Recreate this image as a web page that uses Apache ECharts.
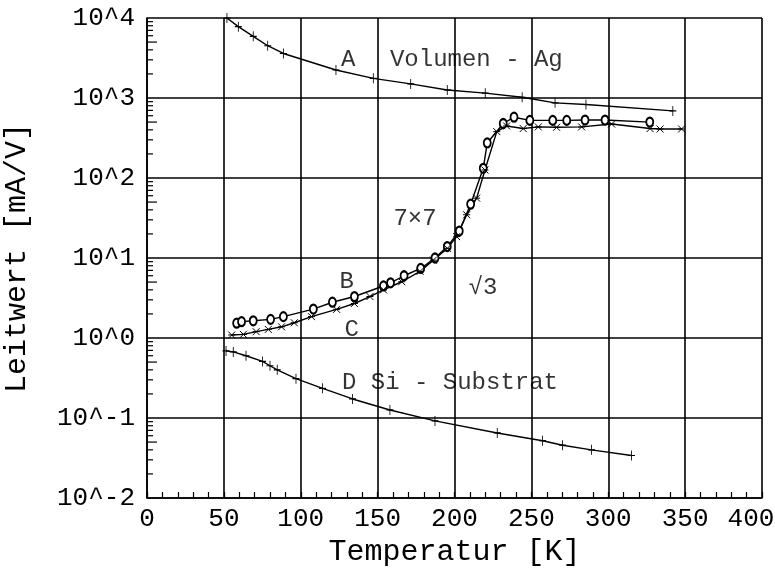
<!DOCTYPE html>
<html><head><meta charset="utf-8">
<script src="https://cdn.jsdelivr.net/npm/echarts@6/dist/echarts.min.js"></script>
<style>html,body{margin:0;padding:0;background:#fff}#c{width:775px;height:571px}</style>
</head><body><div id="c"></div>
<script>
// Series A: Volumen - Ag
const aT = [52, 59.4, 69.1, 78.5, 88.7, 122.9, 147.2, 171.5, 195.3, 220, 244, 265.4, 285.5, 342];
const aG = [10000, 7800, 5900, 4500, 3600, 2240, 1760, 1500, 1260, 1150, 1020, 870, 830, 690];
// Series B (7x7)
const bT = [58.3, 61.5, 69.1, 80.4, 88.7, 108.2, 120.6, 134.9, 153.8, 158.4, 167.2, 178, 187.3, 195.3, 203.1, 210.5, 218.7, 221.3, 231.7, 238.7, 249, 263.9, 273, 284.9, 297.9, 327];
const bG = [1.53, 1.6, 1.64, 1.71, 1.85, 2.3, 2.8, 3.3, 4.47, 4.9, 6.0, 7.4, 10, 13.9, 21.7, 47, 132, 274, 480, 575, 525, 525, 525, 530, 530, 500];
// Series C (sqrt3)
const cT = [55.1, 62.7, 71, 78.9, 87.5, 95.8, 107, 123.3, 134.9, 145, 153.8, 165.7, 177.6, 186.2, 195.3, 201.4, 207.9, 214.4, 219.8, 227.5, 233.9, 244.7, 254.5, 266.4, 282.7, 302.2, 327.2, 333.7, 347.7];
const cG = [1.09, 1.11, 1.2, 1.28, 1.38, 1.55, 1.85, 2.28, 2.7, 3.3, 4, 5.05, 6.8, 9.4, 13.2, 18.5, 34.7, 56, 126, 380, 447, 415, 435, 430, 435, 473, 415, 410, 410];
// Series D: Si - Substrat
const dT = [51.4, 56.1, 64.4, 75.1, 80, 84.7, 96.9, 114.2, 133.7, 158, 187.3, 227.8, 257.3, 270.3, 289.1, 315.1];
const dG = [0.69, 0.67, 0.6, 0.51, 0.45, 0.4, 0.31, 0.235, 0.173, 0.126, 0.092, 0.065, 0.052, 0.0457, 0.04, 0.034];

// annotations
const notesCenter = [
  { text: 'A', T: 130.8, G: 2985 },
  { text: '7×7', T: 174.3, G: 31.3 },
  { text: 'B', T: 129.9, G: 5.06 },
  { text: '√3', T: 218.5, G: 4.2 },
  { text: 'C', T: 133.2, G: 1.26 }
];
const notesLeft = [
  { text: 'Volumen - Ag', T: 158, G: 2985 },
  { text: 'D Si - Substrat', T: 126.8, G: 0.28 }
];
const xTickLabels = ['0','50','100','150','200','250','300','350','400'];
const decades = [-2, -1, 0, 1, 2, 3, 4];

const FONT = 'Liberation Mono';
const zip = (t, g) => t.map((v, i) => [v, g[i]]);

const plus = 'path://M0,-5L0,5M-3,0L3,0';
const crossSym = 'path://M-4,-4L4,4M-4,4L4,-4M-4,0L4,0';

const minorLogVals = [];
decades.slice(0, -1).forEach(k => { for (let m = 2; m <= 9; m++) minorLogVals.push([0, m * Math.pow(10, k)]); });

const lineBase = { type: 'line', color: '#000', lineStyle: { color: '#000', width: 1.4 }, itemStyle: { color: '#000', borderColor: '#000' }, animation: false, z: 5 };

const chart = echarts.init(document.getElementById('c'), null, { renderer: 'canvas' });
chart.setOption({
  animation: false,
  backgroundColor: '#fff',
  grid: { left: 147, right: 13, top: 18, bottom: 73, containLabel: false, outerBoundsMode: 'none' },
  xAxis: {
    type: 'value', min: 0, max: 400, interval: 50,
    name: 'Temperatur [K]', nameLocation: 'middle', nameGap: 36,
    nameTextStyle: { fontFamily: FONT, fontSize: 30, color: '#000' },
    axisLine: { lineStyle: { color: '#000', width: 1.6 } },
    axisTick: { show: true, inside: true, length: 6, lineStyle: { color: '#000', width: 1.3 } },
    minorTick: { show: true, splitNumber: 5, length: 6, lineStyle: { color: '#000', width: 1.2 } },
    axisLabel: { fontFamily: FONT, fontSize: 26, color: '#000', margin: 8,
      formatter: v => { const i = Math.round(v / 50); return i === xTickLabels.length - 1 ? '{last|' + xTickLabels[i] + '}' : xTickLabels[i]; },
      rich: { last: { fontFamily: FONT, fontSize: 26, color: '#000', padding: [0, 22, 0, 0] } } },
    splitLine: { show: true, lineStyle: { color: '#000', width: 1.6 } }
  },
  yAxis: {
    type: 'log', logBase: 10, min: 0.01, max: 10000, interval: 1,
    name: 'Leitwert [mA/V]', nameLocation: 'middle', nameGap: 115, nameRotate: 90,
    nameTextStyle: { fontFamily: FONT, fontSize: 30, color: '#000' },
    axisLine: { lineStyle: { color: '#000', width: 1.6 } },
    axisTick: { show: false },
    axisLabel: { fontFamily: FONT, fontSize: 26, color: '#000', margin: 12,
      formatter: v => '10^' + Math.round(Math.log10(v)) },
    splitLine: { show: true, lineStyle: { color: '#000', width: 1.6 } }
  },
  series: [
    Object.assign({}, lineBase, { name: 'A', data: zip(aT, aG), symbol: plus, symbolSize: [7, 10] }),
    Object.assign({}, lineBase, { name: 'B', data: zip(bT, bG), symbol: 'emptyCircle', symbolSize: [7, 9], itemStyle: { color: '#000', borderColor: '#000', borderWidth: 1.3 } }),
    Object.assign({}, lineBase, { name: 'C', data: zip(cT, cG), symbol: crossSym, symbolSize: 7 }),
    Object.assign({}, lineBase, { name: 'D', data: zip(dT, dG), symbol: plus, symbolSize: [7, 10] }),
    {
      type: 'custom', data: minorLogVals, silent: true, z: 6, clip: false,
      renderItem: (params, api) => {
        const p = api.coord([api.value(0), api.value(1)]);
        const m = api.value(1) / Math.pow(10, Math.floor(Math.log10(api.value(1)) + 1e-9));
        const len = Math.round(m) === 5 ? 10 : 6;
        return { type: 'line', shape: { x1: p[0], y1: p[1], x2: p[0] + len, y2: p[1] }, style: { stroke: '#000', lineWidth: 1.2 } };
      }
    },
    {
      type: 'scatter', symbolSize: 0, silent: true, z: 10,
      data: notesCenter.map(n => ({ value: [n.T, n.G], label: { formatter: n.text } })),
      label: { show: true, position: 'inside', fontFamily: FONT, fontSize: 24, color: '#000', textBorderWidth: 0 }
    },
    {
      type: 'scatter', symbolSize: 0, silent: true, z: 10,
      data: notesLeft.map(n => ({ value: [n.T, n.G], label: { formatter: n.text } })),
      label: { show: true, position: 'right', distance: 0, fontFamily: FONT, fontSize: 24, color: '#000', textBorderWidth: 0 }
    }
  ]
});
</script></body></html>
